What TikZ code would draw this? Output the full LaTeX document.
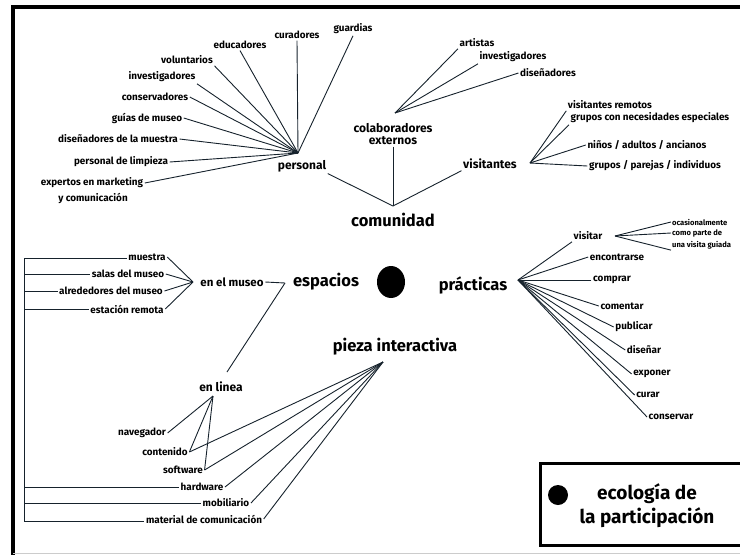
\documentclass[tikz,border=0pt]{standalone}
\usepackage{fontspec}
\setmainfont{Fira Sans}
\definecolor{linec}{RGB}{22,34,44}
\begin{document}
\begin{tikzpicture}[x=1pt,y=-1pt,
  ln/.style={draw=linec, line width=0.9pt},
  sm/.style={font=\fontsize{9.9}{10}\selectfont\bfseries, inner sep=1.5pt},
  tn/.style={font=\fontsize{7.6}{8}\selectfont\bfseries, inner sep=1pt, anchor=west},
  md/.style={font=\fontsize{12}{13.5}\selectfont\bfseries, inner sep=1.5pt},
  lg/.style={font=\fontsize{16.5}{18}\selectfont\bfseries, inner sep=1.5pt},
  lgd/.style={font=\fontsize{19}{24}\selectfont\bfseries, inner sep=1pt},
]
\useasboundingbox (0,0) rectangle (740,555);
% frame
\draw[line width=4pt, black] (11,7) -- (745,7);
\draw[line width=3.5pt, black] (13,5) -- (13,560);
\draw[black!20, line width=0.6pt] (13,553) -- (740,553);

% ---------- personal ----------
\node[md] (personal) at (302,166) {personal};
\coordinate (Ph) at (298,153);
\node[sm] (curadores) at (297,35) {curadores};
\node[sm] (guardias) at (353,29) {guardias};
\node[sm] (educadores) at (240,45) {educadores};
\node[sm] (voluntarios) at (187,60) {voluntarios};
\node[sm] (invest) at (162,77) {investigadores};
\node[sm] (conserv) at (155,97) {conservadores};
\node[sm] (guias) at (147,118) {guías de museo};
\node[sm] (disen) at (118,139) {diseñadores de la muestra};
\node[sm] (limp) at (121,162) {personal de limpieza};
\node[sm] (exp1) at (92,183) {expertos en marketing};
\node[sm] (exp2) at (93,198) {y comunicación};
\draw[ln] (curadores.south) -- (Ph);
\draw[ln] (guardias.south) -- (Ph);
\draw[ln] (educadores.south) -- (Ph);
\draw[ln] (voluntarios.south east) -- (Ph);
\draw[ln] (invest.south east) -- (Ph);
\draw[ln] (conserv.east) -- (Ph);
\draw[ln] (guias.east) -- (Ph);
\draw[ln] (disen.east) -- (Ph);
\draw[ln] (limp.east) -- (Ph);
\draw[ln] (exp1.east) -- (Ph);

% ---------- colaboradores ----------
\node[md, align=center] (colab) at (393,134) {colaboradores\\[-1pt]externos};
\coordinate (Ch) at (395,113);
\node[sm] (artistas) at (477,43) {artistas};
\node[sm] (invest2) at (513,57) {investigadores};
\node[sm] (disen2) at (548,73) {diseñadores};
\draw[ln] (artistas.south west) -- (Ch);
\draw[ln] (invest2.south west) -- (Ch);
\draw[ln] (disen2.west) -- (Ch);

% ---------- comunidad ----------
\node[lg] (comunidad) at (393,220) {comunidad};
\coordinate (Cm) at (393,206);
\draw[ln] (colab.south) -- (Cm);
\draw[ln] (personal.south east) -- (Cm);
\node[md] (visitantes) at (490,164) {visitantes};
\draw[ln] (visitantes.south west) -- (Cm);
\coordinate (Vh) at (530,163);
\node[sm] (vrem) at (610,105) {visitantes remotos};
\node[sm, anchor=west] (gnec) at (569,118) {grupos con necesidades especiales};
\node[sm] (ninos) at (647,145) {niños / adultos / ancianos};
\node[sm] (grup) at (655,166) {grupos / parejas / individuos};
\draw[ln] (vrem.south west) -- (Vh);
\draw[ln] (gnec.south west) -- (Vh);
\draw[ln] (ninos.west) -- (Vh);
\draw[ln] (grup.west) -- (Vh);

% ---------- espacios ----------
\node[lg] (espacios) at (326,282) {espacios};
\fill[black] (391,282) ellipse (14 and 16);
\node[md, font=\fontsize{11.5}{13}\selectfont\bfseries] (museo) at (232,282) {en el museo};
\coordinate (Mh) at (193,282);
\coordinate (E) at (285,283);
\node[sm] (muestra) at (147,257) {muestra};
\node[sm] (salas) at (128,274) {salas del museo};
\node[sm] (alred) at (111,291) {alrededores del museo};
\node[sm] (estac) at (127,309) {estación remota};
\draw[ln] (muestra.east) -- (Mh);
\draw[ln] (salas.east) -- (Mh);
\draw[ln] (alred.east) -- (Mh);
\draw[ln] (estac.east) -- (Mh);
\draw[ln] (museo.east) -- (E);

% ---------- en linea ----------
\node[md, font=\fontsize{12}{13}\selectfont\bfseries] (linea) at (221,387) {en linea};
\coordinate (Lh) at (213,396);
\coordinate (Lt) at (227,372);
\draw[ln] (E) -- (Lt);
\node[sm] (naveg) at (142,433) {navegador};
\node[sm] (conten) at (165,452) {contenido};
\node[sm] (softw) at (183,470) {software};
\node[sm] (hardw) at (202,487) {hardware};
\node[sm] (mobil) at (226,503) {mobiliario};
\node[sm] (mater) at (204,519) {material de comunicación};
\draw[ln] (naveg.east) -- (Lh);
\draw[ln] (conten.east) -- (Lh);
\draw[ln] (softw.east) -- (Lh);

% ---------- pieza interactiva ----------
\node[lg] (pieza) at (395,347) {pieza interactiva};
\coordinate (Pz) at (383,362);
\draw[ln] (conten.east) -- (Pz);
\draw[ln] (softw.east) -- (Pz);
\draw[ln] (hardw.east) -- (Pz);
\draw[ln] (mobil.east) -- (Pz);
\draw[ln] (mater.east) -- (Pz);

% ---------- bracket ----------
\coordinate (B1) at (24,258);
\coordinate (B2) at (24,521);
\draw[ln] (B1) -- (B2);
\draw[ln] (B1) -- (muestra.west |- B1);
\draw[ln] (24,274) -- (salas.west);
\draw[ln] (24,291) -- (alred.west);
\draw[ln] (24,309) -- (estac.west);
\draw[ln] (24,487) -- (hardw.west);
\draw[ln] (24,503) -- (mobil.west);
\draw[ln] (B2) -- (mater.west |- B2);

% ---------- practicas ----------
\node[lg] (pract) at (473,285) {prácticas};
\coordinate (Pr) at (518,280);
\node[sm] (visitar) at (588,236) {visitar};
\coordinate (Vt) at (615,236);
\node[tn] (ocas) at (671,222) {ocasionalmente};
\node[tn] (como) at (671,233) {como parte de};
\node[tn] (guiada) at (671,245) {una visita guiada};
\draw[ln] (ocas.west) -- (Vt);
\draw[ln] (como.west) -- (Vt);
\draw[ln] (guiada.south west) -- (Vt);
\node[sm] (encon) at (617,257) {encontrarse};
\node[sm] (compr) at (612,280) {comprar};
\node[sm] (coment) at (622,306) {comentar};
\node[sm] (public) at (634,327) {publicar};
\node[sm] (disenar) at (644,350) {diseñar};
\node[sm] (expon) at (652,374) {exponer};
\node[sm] (curar) at (648,395) {curar};
\node[sm] (conservar) at (671,417) {conservar};
\draw[ln] (visitar.south west) -- (Pr);
\draw[ln] (encon.west) -- (Pr);
\draw[ln] (compr.west) -- (Pr);
\draw[ln] (coment.west) -- (Pr);
\draw[ln] (public.west) -- (Pr);
\draw[ln] (disenar.west) -- (Pr);
\draw[ln] (expon.west) -- (Pr);
\draw[ln] (curar.west) -- (Pr);
\draw[ln] (conservar.west) -- (Pr);

% ---------- legend ----------
\draw[line width=3pt, black] (540,463) rectangle (760,545);
\fill[black] (558,495) circle (10);
\node[lgd, align=center] (legend) at (647,506) {ecología de\\la participación};
\end{tikzpicture}
\end{document}
